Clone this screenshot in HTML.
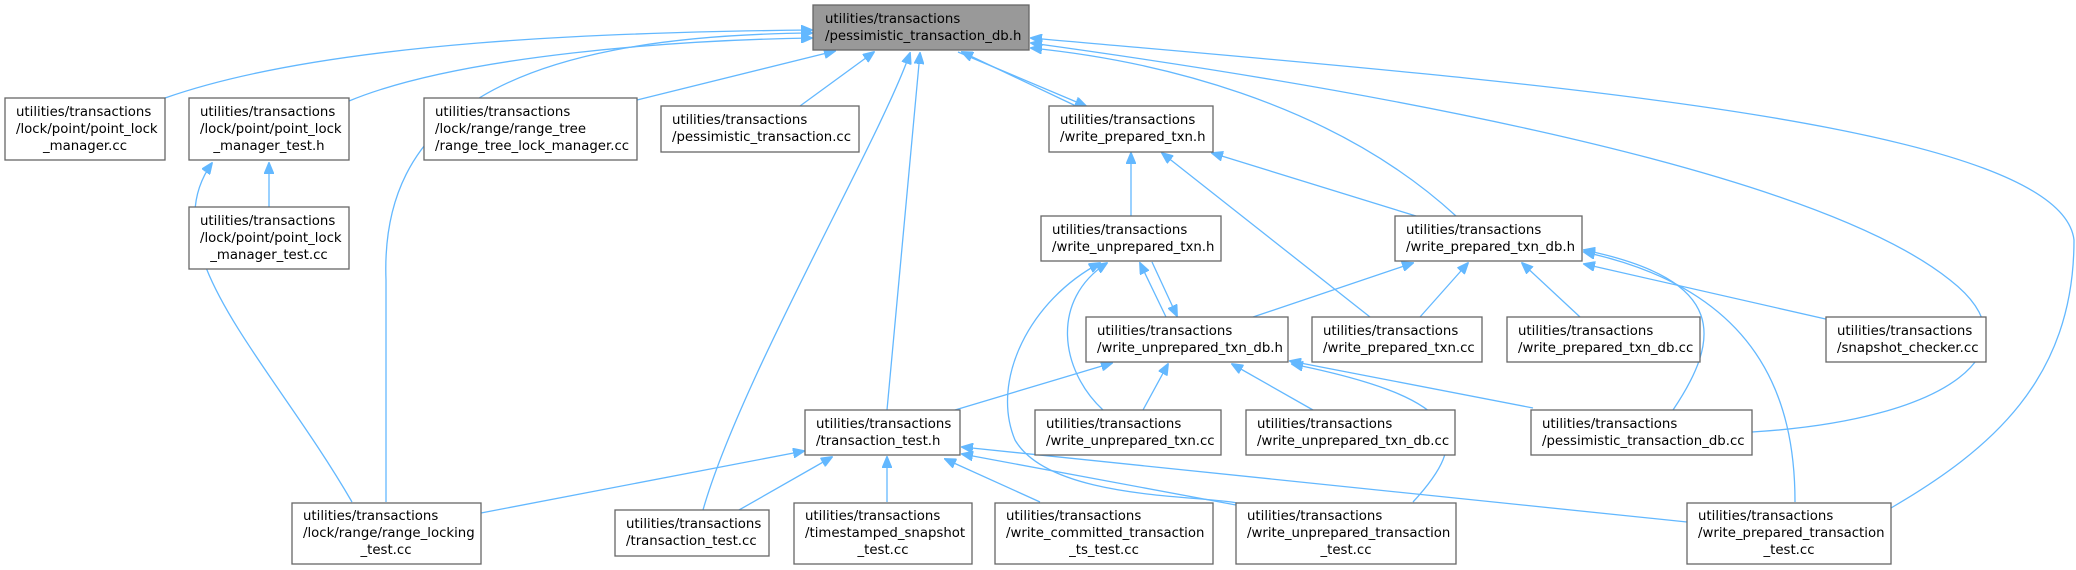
<!DOCTYPE html>
<html><head><meta charset="utf-8"><style>
html,body{margin:0;padding:0;background:#fff;}
svg{display:block;}
text{font-family:"DejaVu Sans","Liberation Sans",sans-serif;font-size:13.3px;fill:#000;}
.b{fill:#fff;stroke:#666;stroke-width:1.3;}
.r{fill:#999;stroke:#666;stroke-width:1.3;}
.e{fill:none;stroke:#63b8ff;stroke-width:1.3;}
</style></head><body>
<svg width="2076" height="570" viewBox="0 0 2076 570" xmlns="http://www.w3.org/2000/svg">
<defs>
<marker id="a" markerWidth="12" markerHeight="10" refX="11" refY="5" orient="auto" markerUnits="userSpaceOnUse">
<path d="M0,0 L12,5 L0,10 Z" fill="#63b8ff" stroke="#63b8ff"/>
</marker>
</defs>
<g class="edges">
<!-- to root -->
<path class="e" marker-end="url(#a)" d="M165,98 C330,40 620,32 812,30"/>
<path class="e" marker-end="url(#a)" d="M349,101 C460,55 680,40 812,38"/>
<path class="e" marker-end="url(#a)" d="M637,100 L835,51"/>
<path class="e" marker-end="url(#a)" d="M800,106 L874,52"/>
<path class="e" marker-end="url(#a)" d="M1076,106 L962,52"/>
<path class="e" marker-end="url(#a)" d="M386,502 L386,280 C380,120 500,36 812,33"/>
<path class="e" marker-end="url(#a)" d="M703,510 C740,380 880,140 910,53"/>
<path class="e" marker-end="url(#a)" d="M887,410 L920,53"/>
<path class="e" marker-end="url(#a)" d="M1456,216 C1330,100 1150,60 1031,48"/>
<path class="e" marker-end="url(#a)" d="M1752,432 C1950,420 2040,350 1950,280 C1800,160 1300,80 1031,43"/>
<path class="e" marker-end="url(#a)" d="M1891,508 C1990,450 2074,380 2074,240 C2060,120 1500,80 1031,38"/>
<!-- root -> wp_txn.h -->
<path class="e" marker-end="url(#a)" d="M958,52 L1086,106"/>
<!-- point lock -->
<path class="e" marker-end="url(#a)" d="M269,207 L269,163"/>
<path class="e" marker-end="url(#a)" d="M352,502 C270,360 150,250 212,163"/>
<!-- wp_txn.h children -->
<path class="e" marker-end="url(#a)" d="M1131,216 L1131,153"/>
<path class="e" marker-end="url(#a)" d="M1370,317 L1162,153"/>
<path class="e" marker-end="url(#a)" d="M1416,216 L1212,153"/>
<!-- wu_txn.h / wu_txn_db.h -->
<path class="e" marker-end="url(#a)" d="M1166,317 L1140,263"/>
<path class="e" marker-end="url(#a)" d="M1152,262 L1177,316"/>
<path class="e" marker-end="url(#a)" d="M1103,410 C1060,370 1050,300 1107,263"/>
<path class="e" marker-end="url(#a)" d="M1237,503 C1200,495 1050,500 1015,440 C990,380 1030,300 1100,263"/>
<!-- wp_txn_db.h children -->
<path class="e" marker-end="url(#a)" d="M1253,317 L1413,263"/>
<path class="e" marker-end="url(#a)" d="M1420,317 L1468,263"/>
<path class="e" marker-end="url(#a)" d="M1580,317 L1522,263"/>
<path class="e" marker-end="url(#a)" d="M1830,320 L1584,264"/>
<path class="e" marker-end="url(#a)" d="M1673,410 C1720,340 1730,280 1584,250"/>
<path class="e" marker-end="url(#a)" d="M1795,502 C1795,400 1760,290 1584,252"/>
<!-- wu_txn_db.h children -->
<path class="e" marker-end="url(#a)" d="M955,410 L1112,363"/>
<path class="e" marker-end="url(#a)" d="M1143,410 L1168,364"/>
<path class="e" marker-end="url(#a)" d="M1313,410 L1232,364"/>
<path class="e" marker-end="url(#a)" d="M1533,408 L1290,361"/>
<path class="e" marker-end="url(#a)" d="M1413,502 C1470,440 1470,400 1292,364"/>
<!-- transaction_test.h children -->
<path class="e" marker-end="url(#a)" d="M481,513 L804,451"/>
<path class="e" marker-end="url(#a)" d="M739,510 L832,457"/>
<path class="e" marker-end="url(#a)" d="M887,502 L887,457"/>
<path class="e" marker-end="url(#a)" d="M1040,502 L945,459"/>
<path class="e" marker-end="url(#a)" d="M1236,505 L962,454"/>
<path class="e" marker-end="url(#a)" d="M1687,522 L962,447"/>
</g>
<g class="nodes">
<rect class="r" x="813" y="5" width="216" height="45"/>
<text x="825" y="23">utilities/transactions</text>
<text x="825" y="40">/pessimistic_transaction_db.h</text>

<rect class="b" x="5" y="98" width="160" height="62"/>
<text x="16" y="116">utilities/transactions</text>
<text x="16" y="133">/lock/point/point_lock</text>
<text x="85" y="150" text-anchor="middle">_manager.cc</text>

<rect class="b" x="189" y="98" width="160" height="62"/>
<text x="200" y="116">utilities/transactions</text>
<text x="200" y="133">/lock/point/point_lock</text>
<text x="269" y="150" text-anchor="middle">_manager_test.h</text>

<rect class="b" x="424" y="98" width="213" height="62"/>
<text x="435" y="116">utilities/transactions</text>
<text x="435" y="133">/lock/range/range_tree</text>
<text x="435" y="150">/range_tree_lock_manager.cc</text>

<rect class="b" x="661" y="106" width="198" height="46"/>
<text x="672" y="124">utilities/transactions</text>
<text x="672" y="141">/pessimistic_transaction.cc</text>

<rect class="b" x="1049" y="106" width="164" height="46"/>
<text x="1060" y="124">utilities/transactions</text>
<text x="1060" y="141">/write_prepared_txn.h</text>

<rect class="b" x="189" y="207" width="160" height="62"/>
<text x="200" y="225">utilities/transactions</text>
<text x="200" y="242">/lock/point/point_lock</text>
<text x="269" y="259" text-anchor="middle">_manager_test.cc</text>

<rect class="b" x="1041" y="216" width="180" height="45"/>
<text x="1052" y="234">utilities/transactions</text>
<text x="1052" y="251">/write_unprepared_txn.h</text>

<rect class="b" x="1395" y="216" width="187" height="45"/>
<text x="1406" y="234">utilities/transactions</text>
<text x="1406" y="251">/write_prepared_txn_db.h</text>

<rect class="b" x="1086" y="317" width="202" height="45"/>
<text x="1097" y="335">utilities/transactions</text>
<text x="1097" y="352">/write_unprepared_txn_db.h</text>

<rect class="b" x="1312" y="317" width="170" height="45"/>
<text x="1323" y="335">utilities/transactions</text>
<text x="1323" y="352">/write_prepared_txn.cc</text>

<rect class="b" x="1507" y="317" width="193" height="45"/>
<text x="1518" y="335">utilities/transactions</text>
<text x="1518" y="352">/write_prepared_txn_db.cc</text>

<rect class="b" x="1826" y="317" width="160" height="45"/>
<text x="1837" y="335">utilities/transactions</text>
<text x="1837" y="352">/snapshot_checker.cc</text>

<rect class="b" x="805" y="410" width="155" height="45"/>
<text x="816" y="428">utilities/transactions</text>
<text x="816" y="445">/transaction_test.h</text>

<rect class="b" x="1035" y="410" width="186" height="45"/>
<text x="1046" y="428">utilities/transactions</text>
<text x="1046" y="445">/write_unprepared_txn.cc</text>

<rect class="b" x="1246" y="410" width="209" height="45"/>
<text x="1257" y="428">utilities/transactions</text>
<text x="1257" y="445">/write_unprepared_txn_db.cc</text>

<rect class="b" x="1531" y="410" width="221" height="45"/>
<text x="1542" y="428">utilities/transactions</text>
<text x="1542" y="445">/pessimistic_transaction_db.cc</text>

<rect class="b" x="292" y="503" width="189" height="61"/>
<text x="303" y="520">utilities/transactions</text>
<text x="303" y="537">/lock/range/range_locking</text>
<text x="386" y="554" text-anchor="middle">_test.cc</text>

<rect class="b" x="615" y="510" width="154" height="46"/>
<text x="626" y="528">utilities/transactions</text>
<text x="626" y="545">/transaction_test.cc</text>

<rect class="b" x="794" y="503" width="178" height="61"/>
<text x="805" y="520">utilities/transactions</text>
<text x="805" y="537">/timestamped_snapshot</text>
<text x="883" y="554" text-anchor="middle">_test.cc</text>

<rect class="b" x="995" y="503" width="218" height="61"/>
<text x="1006" y="520">utilities/transactions</text>
<text x="1006" y="537">/write_committed_transaction</text>
<text x="1104" y="554" text-anchor="middle">_ts_test.cc</text>

<rect class="b" x="1236" y="503" width="220" height="61"/>
<text x="1247" y="520">utilities/transactions</text>
<text x="1247" y="537">/write_unprepared_transaction</text>
<text x="1346" y="554" text-anchor="middle">_test.cc</text>

<rect class="b" x="1687" y="503" width="204" height="61"/>
<text x="1698" y="520">utilities/transactions</text>
<text x="1698" y="537">/write_prepared_transaction</text>
<text x="1789" y="554" text-anchor="middle">_test.cc</text>
</g>
</svg>
</body></html>
